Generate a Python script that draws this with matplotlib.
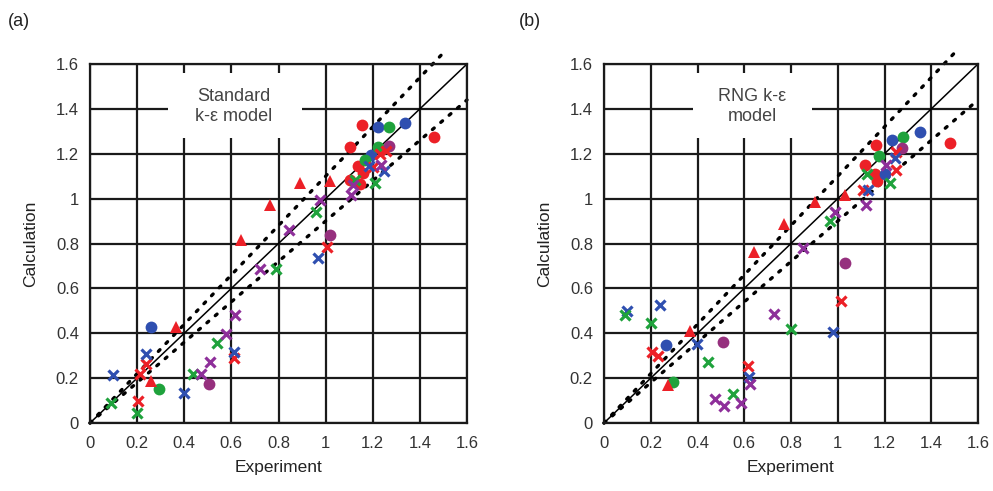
import matplotlib
matplotlib.use("Agg")
import matplotlib.pyplot as plt
from matplotlib.patches import Rectangle

plt.rcParams['font.family'] = ['Liberation Sans', 'DejaVu Sans']

# ---------------- data ----------------
ticks = [0, 0.2, 0.4, 0.6, 0.8, 1, 1.2, 1.4, 1.6]
tick_labels = ["0", "0.2", "0.4", "0.6", "0.8", "1", "1.2", "1.4", "1.6"]

# Panel (a): Standard k-e model
a_red_circles = [(1.155, 1.329), (1.462, 1.275), (1.102, 1.230), (1.137, 1.145),
                 (1.158, 1.115), (1.102, 1.085), (1.144, 1.065)]
a_blue_circles = [(0.257, 0.430), (1.222, 1.320), (1.338, 1.339), (1.193, 1.194)]
a_green_circles = [(0.294, 0.151), (1.268, 1.317), (1.222, 1.230), (1.165, 1.170)]
a_purple_circles = [(0.503, 0.175), (1.017, 0.840), (1.268, 1.235)]
a_red_triangles = [(0.261, 0.186), (0.364, 0.430), (0.640, 0.815), (0.763, 0.972),
                   (0.892, 1.070), (1.020, 1.080)]
a_red_x = [(0.205, 0.100), (0.212, 0.220), (0.237, 0.261), (0.610, 0.291),
           (1.006, 0.785), (1.229, 1.200), (1.257, 1.212), (1.200, 1.140)]
a_blue_x = [(0.096, 0.216), (0.237, 0.306), (0.398, 0.133), (0.610, 0.316),
            (0.969, 0.736), (1.186, 1.145), (1.246, 1.122)]
a_green_x = [(0.088, 0.091), (0.200, 0.046), (0.438, 0.220), (0.540, 0.358),
             (0.791, 0.685), (0.960, 0.942), (1.123, 1.085), (1.208, 1.070)]
a_purple_x = [(0.469, 0.220), (0.508, 0.271), (0.579, 0.396), (0.614, 0.481),
              (0.720, 0.685), (0.845, 0.860), (0.975, 0.995), (1.109, 1.017),
              (1.116, 1.059), (1.236, 1.149)]

# Panel (b): RNG k-e model
b_red_circles = [(1.479, 1.249), (1.165, 1.239), (1.115, 1.149), (1.158, 1.110),
                 (1.168, 1.080)]
b_blue_circles = [(0.265, 0.346), (1.353, 1.299), (1.234, 1.260), (1.201, 1.110)]
b_green_circles = [(0.296, 0.181), (1.279, 1.275), (1.177, 1.190)]
b_purple_circles = [(0.507, 0.361), (1.030, 0.715), (1.276, 1.227)]
b_red_triangles = [(0.275, 0.171), (0.370, 0.410), (0.641, 0.760), (0.769, 0.885),
                   (0.902, 0.987), (1.030, 1.017)]
b_red_x = [(0.204, 0.316), (0.232, 0.298), (0.617, 0.256), (1.016, 0.545),
           (1.251, 1.129), (1.108, 1.040), (1.250, 1.210)]
b_blue_x = [(0.100, 0.500), (0.239, 0.526), (0.399, 0.351), (0.621, 0.205),
            (0.980, 0.406), (1.244, 1.182), (1.130, 1.040)]
b_green_x = [(0.090, 0.481), (0.199, 0.445), (0.446, 0.271), (0.550, 0.130),
             (0.800, 0.421), (0.966, 0.900), (1.125, 1.110), (1.222, 1.070)]
b_purple_x = [(0.474, 0.106), (0.513, 0.076), (0.588, 0.088), (0.624, 0.175),
              (0.726, 0.485), (0.852, 0.778), (0.987, 0.942), (1.120, 0.972),
              (1.208, 1.152)]

RED = "#ec2027"
BLUE = "#2f4fb0"
GREEN = "#1fa23c"
PURPLE = "#8e2f9a"
PURPLE_C = "#96307e"

panels = [
    dict(ax_rect=[90/993, 68/491, 377/993, 359/491], label="(a)", label_x=8/993,
         text="Standard\nk-\u03b5 model", box=(0.33, 1.27, 0.57, 0.29), text_xy=(0.61, 1.41),
         series=[(a_red_circles, 'o', RED), (a_blue_circles, 'o', BLUE),
                 (a_green_circles, 'o', GREEN), (a_purple_circles, 'o', PURPLE_C),
                 (a_red_triangles, '^', RED), (a_red_x, 'x', RED), (a_blue_x, 'x', BLUE),
                 (a_green_x, 'x', GREEN), (a_purple_x, 'x', PURPLE)]),
    dict(ax_rect=[604/993, 68/491, 374/993, 359/491], label="(b)", label_x=519/993,
         text="RNG k-\u03b5\nmodel", box=(0.38, 1.27, 0.51, 0.29), text_xy=(0.635, 1.41),
         series=[(b_red_circles, 'o', RED), (b_blue_circles, 'o', BLUE),
                 (b_green_circles, 'o', GREEN), (b_purple_circles, 'o', PURPLE_C),
                 (b_red_triangles, '^', RED), (b_red_x, 'x', RED), (b_blue_x, 'x', BLUE),
                 (b_green_x, 'x', GREEN), (b_purple_x, 'x', PURPLE)]),
]

fig = plt.figure(figsize=(9.93, 4.91), dpi=100)

for p in panels:
    ax = fig.add_axes(p['ax_rect'])
    ax.set_xlim(0, 1.6)
    ax.set_ylim(0, 1.6)
    ax.set_xticks(ticks)
    ax.set_yticks(ticks)
    ax.set_xticklabels(tick_labels)
    ax.set_yticklabels(tick_labels)
    ax.tick_params(axis='x', length=0, labelsize=12, labelcolor="#333333", pad=9)
    ax.tick_params(axis='y', length=0, labelsize=12, labelcolor="#333333", pad=8)
    ax.set_axisbelow(True)
    ax.grid(True, color="#1a1a1a", linewidth=1.6)
    for s in ax.spines.values():
        s.set_color("#1a1a1a")
        s.set_linewidth(1.6)

    # reference lines
    ax.plot([0, 1.6], [0, 1.6], color="black", lw=1.1, zorder=2)
    ax.plot([0, 1.5], [0, 1.65], color="black", lw=2.4, linestyle=(0, (0.7, 2.6)),
            dash_capstyle='round', clip_on=False, zorder=2)
    ax.plot([0, 1.6], [0, 1.44], color="black", lw=2.4, linestyle=(0, (0.7, 2.6)),
            dash_capstyle='round', clip_on=False, zorder=2)

    # text box
    bx, by, bw, bh = p['box']
    ax.add_patch(Rectangle((bx, by), bw, bh, facecolor="white", edgecolor="none", zorder=1))
    ax.text(p['text_xy'][0], p['text_xy'][1], p['text'], ha='center', va='center',
            fontsize=13, color="#444444", linespacing=1.2, zorder=1.5)

    for pts, m, c in p['series']:
        xs = [q[0] for q in pts]
        ys = [q[1] for q in pts]
        if m == 'x':
            ax.plot(xs, ys, linestyle='none', marker='x', markersize=7.2,
                    markeredgewidth=2.3, color=c, zorder=3)
        elif m == '^':
            ax.plot(xs, ys, linestyle='none', marker='^', markersize=9,
                    color=c, markeredgewidth=0, zorder=3)
        else:
            ax.plot(xs, ys, linestyle='none', marker='o', markersize=8.5,
                    color=c, markeredgewidth=0, zorder=3)

    ax.set_xlabel("Experiment", fontsize=12.5, color="#222222", labelpad=7)
    ax.set_ylabel("Calculation", fontsize=12.5, color="#222222", labelpad=13)
    fig.text(p['label_x'], 1 - 22/491, p['label'], fontsize=13, color="#222222",
             va='center', ha='left')

fig.savefig("out.png", dpi=100)
